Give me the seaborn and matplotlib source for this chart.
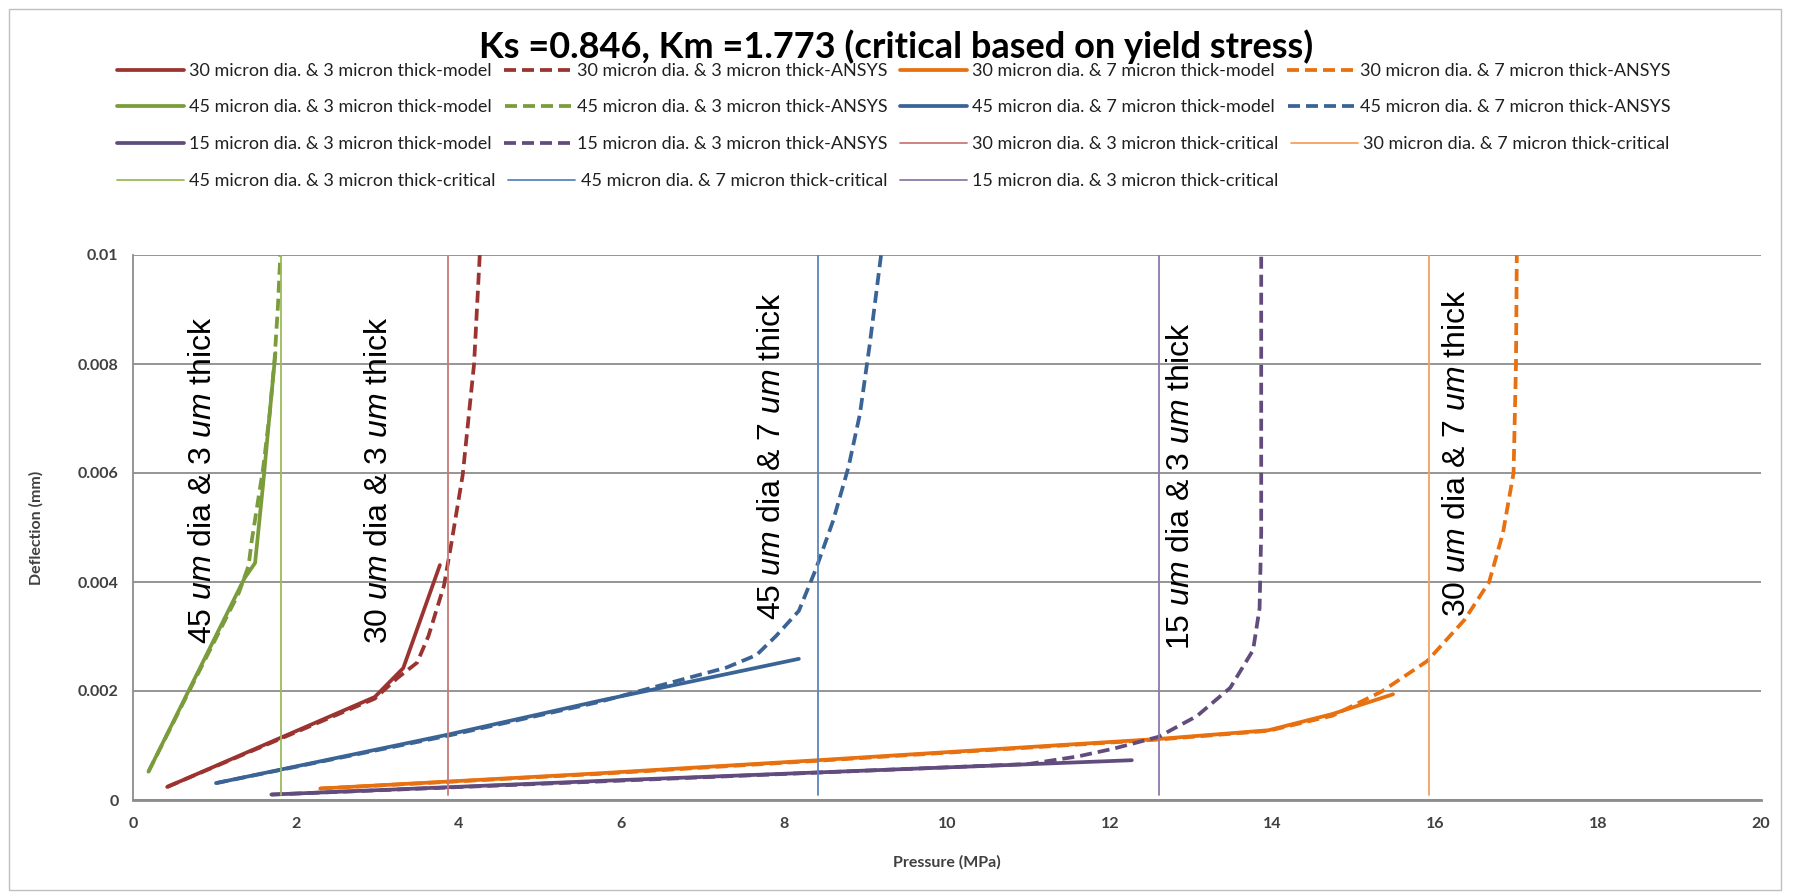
import numpy as np
import pandas as pd
import matplotlib
matplotlib.use("Agg")
import matplotlib.pyplot as plt
import seaborn as sns
from matplotlib.lines import Line2D
from matplotlib.patches import Rectangle
from matplotlib.ticker import FixedLocator, FixedFormatter, MultipleLocator

# ---------------- data ----------------
title = "Ks =0.846, Km =1.773 (critical based on yield stress)"
x_label = "Pressure (MPa)"
y_label = "Deflection (mm)"
x_ticks = [0, 2, 4, 6, 8, 10, 12, 14, 16, 18, 20]
x_tick_labels = ["0", "2", "4", "6", "8", "10", "12", "14", "16", "18", "20"]
y_ticks = [0, 0.002, 0.004, 0.006, 0.008, 0.01]
y_tick_labels = ["0", "0.002", "0.004", "0.006", "0.008", "0.01"]

# 30 micron dia & 3 micron thick
p_30_3_model = [0.42, 2.97, 3.32, 3.77]
d_30_3_model = [0.00024, 0.00189, 0.00242, 0.00431]
p_30_3_ansys = [0.42, 2.97, 3.25, 3.49, 3.63, 3.82, 3.91, 4.05, 4.19, 4.26]
d_30_3_ansys = [0.00024, 0.00186, 0.00224, 0.00252, 0.00301, 0.00393, 0.0047, 0.00596, 0.0080, 0.0100]

# 30 micron dia & 7 micron thick
p_30_7_model = [2.30, 5.73, 8.41, 12.6, 13.95, 14.74, 15.48]
d_30_7_model = [0.00021, 0.00049, 0.00073, 0.00112, 0.00128, 0.00158, 0.00194]
p_30_7_ansys = [2.30, 5.73, 8.41, 12.6, 13.95, 14.74, 15.34, 15.9, 16.36, 16.66, 16.83, 16.96, 16.99, 17.0]
d_30_7_ansys = [0.00021, 0.00048, 0.00072, 0.00111, 0.00127, 0.00155, 0.00199, 0.00255, 0.00331, 0.0040, 0.0049, 0.0060, 0.0080, 0.0100]

# 45 micron dia & 3 micron thick
p_45_3_model = [0.19, 1.37, 1.50, 1.60, 1.67, 1.75]
d_45_3_model = [0.00052, 0.00407, 0.00435, 0.00582, 0.00695, 0.00820]
p_45_3_ansys = [0.19, 1.30, 1.42, 1.46, 1.60, 1.68, 1.74, 1.78, 1.81]
d_45_3_ansys = [0.00052, 0.0038, 0.0043, 0.00477, 0.0061, 0.0071, 0.0081, 0.00905, 0.0100]

# 45 micron dia & 7 micron thick
p_45_7_model = [1.02, 3.87, 5.73, 8.18]
d_45_7_model = [0.00031, 0.00120, 0.00182, 0.00259]
p_45_7_ansys = [1.02, 3.87, 5.73, 7.29, 7.66, 7.90, 8.18, 8.39, 8.60, 8.79, 8.93, 9.05, 9.19]
d_45_7_ansys = [0.00031, 0.00118, 0.00180, 0.00243, 0.00266, 0.00301, 0.00347, 0.00424, 0.00512, 0.00611, 0.00708, 0.00835, 0.0100]

# 15 micron dia & 3 micron thick
p_15_3_model = [1.70, 5.73, 12.27]
d_15_3_model = [0.00010, 0.00035, 0.00073]
p_15_3_ansys = [1.70, 5.73, 11.0, 11.61, 12.04, 12.6, 13.07, 13.48, 13.76, 13.84, 13.86, 13.86]
d_15_3_ansys = [0.00010, 0.00034, 0.00066, 0.00080, 0.00094, 0.00116, 0.00154, 0.00206, 0.00275, 0.00352, 0.0049, 0.0100]

# critical pressures (vertical lines)
crit_30_3 = 3.87
crit_30_7 = 15.92
crit_45_3 = 1.815
crit_45_7 = 8.41
crit_15_3 = 12.61
crit_d = [0.0001, 0.0100]

# annotations
ann_texts = [r"45 $\mathit{um}$ dia & 3 $\mathit{um}$ thick",
             r"30 $\mathit{um}$ dia & 3 $\mathit{um}$ thick",
             r"45 $\mathit{um}$ dia & 7 $\mathit{um}$ thick",
             r"15 $\mathit{um}$ dia & 3 $\mathit{um}$ thick",
             r"30 $\mathit{um}$ dia & 7 $\mathit{um}$ thick"]
ann_p = [0.855, 3.02, 7.85, 12.88, 16.27]
ann_d = [0.00587, 0.00587, 0.00631, 0.00576, 0.00637]

# ---------------- style ----------------
sns.set_style("white")
plt.rcParams["font.family"] = ["Lato", "DejaVu Sans"]
plt.rcParams["mathtext.fontset"] = "custom"
plt.rcParams["mathtext.rm"] = "Liberation Sans"
plt.rcParams["mathtext.it"] = "Liberation Sans:italic"

RED, RED_L = "#9B3431", "#C97A78"
GRN, GRN_L = "#7A9C3A", "#9BBB59"
BLU, BLU_L = "#3A6496", "#5B86BE"
ORG, ORG_L = "#E8700F", "#F6A060"
VIO, VIO_L = "#624C7E", "#8D78AA"

W, H = 1793, 894
fig = plt.figure(figsize=(W / 100, H / 100), dpi=100)
fig.patch.set_facecolor("white")
L, R, T, B = 133, 1761, 255, 800
ax = fig.add_axes([L / W, 1 - B / H, (R - L) / W, (B - T) / H])

LW = 2.7
DASH = (0, (3.2, 1.6))
CLW = 1.3

series = [
    ("30_3_model", p_30_3_model, d_30_3_model, RED, LW, "-", "30 micron dia. & 3 micron thick-model"),
    ("30_3_ansys", p_30_3_ansys, d_30_3_ansys, RED, LW, DASH, "30 micron dia. & 3 micron thick-ANSYS"),
    ("30_7_model", p_30_7_model, d_30_7_model, ORG, LW, "-", "30 micron dia. & 7 micron thick-model"),
    ("30_7_ansys", p_30_7_ansys, d_30_7_ansys, ORG, LW, DASH, "30 micron dia. & 7 micron thick-ANSYS"),
    ("45_3_model", p_45_3_model, d_45_3_model, GRN, LW, "-", "45 micron dia. & 3 micron thick-model"),
    ("45_3_ansys", p_45_3_ansys, d_45_3_ansys, GRN, LW, DASH, "45 micron dia. & 3 micron thick-ANSYS"),
    ("45_7_model", p_45_7_model, d_45_7_model, BLU, LW, "-", "45 micron dia. & 7 micron thick-model"),
    ("45_7_ansys", p_45_7_ansys, d_45_7_ansys, BLU, LW, DASH, "45 micron dia. & 7 micron thick-ANSYS"),
    ("15_3_model", p_15_3_model, d_15_3_model, VIO, LW, "-", "15 micron dia. & 3 micron thick-model"),
    ("15_3_ansys", p_15_3_ansys, d_15_3_ansys, VIO, LW, DASH, "15 micron dia. & 3 micron thick-ANSYS"),
    ("30_3_crit", [crit_30_3, crit_30_3], crit_d, RED_L, CLW, "-", "30 micron dia. & 3 micron thick-critical"),
    ("30_7_crit", [crit_30_7, crit_30_7], crit_d, ORG_L, CLW, "-", "30 micron dia. & 7 micron thick-critical"),
    ("45_3_crit", [crit_45_3, crit_45_3], crit_d, GRN_L, CLW, "-", "45 micron dia. & 3 micron thick-critical"),
    ("45_7_crit", [crit_45_7, crit_45_7], crit_d, BLU_L, CLW, "-", "45 micron dia. & 7 micron thick-critical"),
    ("15_3_crit", [crit_15_3, crit_15_3], crit_d, VIO_L, CLW, "-", "15 micron dia. & 3 micron thick-critical"),
]

handles = {}
for key, p, d, c, lw, ls, lab in series:
    df = pd.DataFrame({"p": p, "d": d})
    sns.lineplot(data=df, x="p", y="d", ax=ax, sort=False, estimator=None,
                 color=c, linewidth=lw, linestyle=ls, legend=False, zorder=3)
    handles[key] = (Line2D([], [], color=c, lw=lw, linestyle=ls), lab)

# axes formatting
ax.set_xlim(0, 20)
ax.set_ylim(0, 0.01)
ax.xaxis.set_major_locator(FixedLocator(x_ticks))
ax.xaxis.set_major_formatter(FixedFormatter(x_tick_labels))
ax.yaxis.set_major_locator(FixedLocator(y_ticks))
ax.yaxis.set_major_formatter(FixedFormatter(y_tick_labels))
ax.xaxis.set_minor_locator(MultipleLocator(0.4))
ax.yaxis.set_minor_locator(MultipleLocator(0.0004))
ax.grid(axis="y", which="major", color="#8C8C8C", linewidth=1.3, zorder=1)
ax.grid(axis="x", visible=False)
ax.set_axisbelow(True)
for s in ["top", "right"]:
    ax.spines[s].set_visible(False)
for s in ["left", "bottom"]:
    ax.spines[s].set_color("#8C8C8C")
    ax.spines[s].set_linewidth(1.3)
ax.spines["bottom"].set_linewidth(2.0)
ax.tick_params(which="major", direction="inout", length=9, width=1.2, color="#8C8C8C",
               labelsize=11.5, labelcolor="#404040")
ax.tick_params(which="minor", direction="inout", length=5, width=1.0, color="#8C8C8C")
ax.tick_params(axis="y", which="major", pad=6)
ax.tick_params(axis="x", which="major", pad=8)
for lbl in ax.get_xticklabels() + ax.get_yticklabels():
    lbl.set_fontweight("bold")

ax.set_xlabel(x_label, fontsize=11.5, fontweight="bold", color="#404040")
ax.set_ylabel(y_label, fontsize=11.5, fontweight="bold", color="#404040")
ax.xaxis.set_label_coords(0.5, -(855 - B) / (B - T))
ax.yaxis.set_label_coords(-(L - 44) / (R - L), 0.5)

# annotations
for t, p, d in zip(ann_texts, ann_p, ann_d):
    ax.text(p, d, t, rotation=90, ha="center", va="center", fontsize=23,
            family="Liberation Sans", color="black", zorder=4)

# title
fig.text(0.5, 1 - 47 / H, title, ha="center", va="center", fontsize=26,
         fontweight="bold", color="black")

# legend: one legend per row (flow layout like the original)
rows = [
    ["30_3_model", "30_3_ansys", "30_7_model", "30_7_ansys"],
    ["45_3_model", "45_3_ansys", "45_7_model", "45_7_ansys"],
    ["15_3_model", "15_3_ansys", "30_3_crit", "30_7_crit"],
    ["45_3_crit", "45_7_crit", "15_3_crit"],
]
row_y = [71, 107.5, 144, 181]
for keys, yy in zip(rows, row_y):
    hs = [handles[k][0] for k in keys]
    ls_ = [handles[k][1] for k in keys]
    fig.legend(hs, ls_, loc="center left", bbox_to_anchor=(117 / W, 1 - yy / H),
               ncol=len(keys), frameon=False, fontsize=13, handlelength=3.7,
               handletextpad=0.3, columnspacing=0.7, borderpad=0, borderaxespad=0,
               labelcolor="#202020")

# chart-area border
fig.patches.append(Rectangle((9 / W, 4 / H), (1781 - 9) / W, (885 - 4) / H,
                             transform=fig.transFigure, fill=False,
                             edgecolor="#BFBFBF", linewidth=1.0))

fig.savefig("out.png", dpi=100, facecolor="white")
